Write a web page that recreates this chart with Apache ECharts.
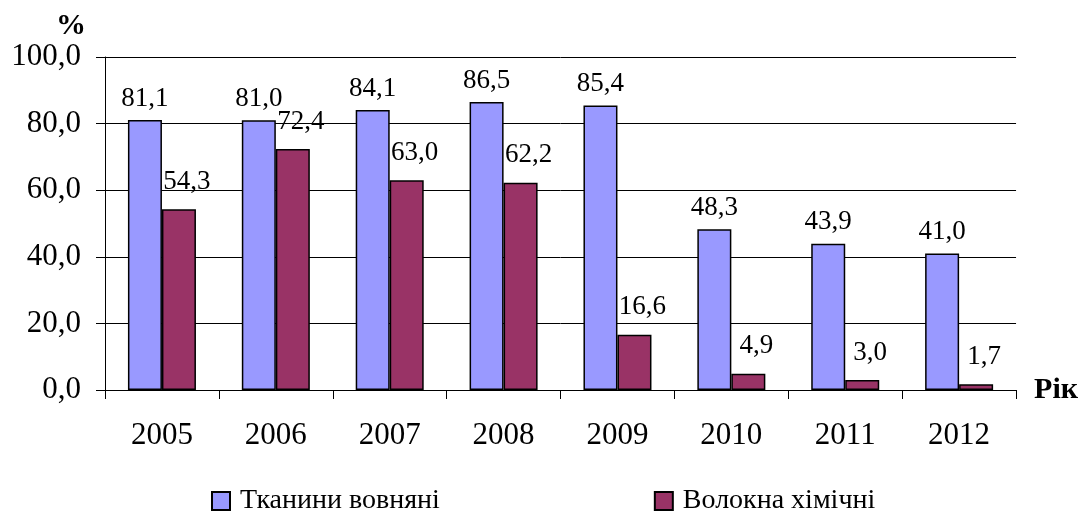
<!DOCTYPE html>
<html>
<head>
    <meta charset="UTF-8">
    <title>Chart</title>
    <style>
        html, body { margin: 0; padding: 0; background: #fff; }
        #chart { width: 1081px; height: 512px; }
    </style>
    <script src="https://cdn.jsdelivr.net/npm/echarts@6/dist/echarts.min.js"></script>
</head>
<body>
    <div id="chart"></div>
    <script>
        // chart data
        var years = ['2005', '2006', '2007', '2008', '2009', '2010', '2011', '2012'];
        var woolFabrics = [81.1, 81.0, 84.1, 86.5, 85.4, 48.3, 43.9, 41.0];
        var chemFibres = [54.3, 72.4, 63.0, 62.2, 16.6, 4.9, 3.0, 1.7];
        var seriesNames = ['Тканини вовняні', 'Волокна хімічні'];

        var serif = 'Times New Roman';

        function comma(v) {
            return Number(v).toFixed(1).replace('.', ',');
        }

        var chart = echarts.init(document.getElementById('chart'));

        var option = {
            animation: false,
            textStyle: { fontFamily: serif, color: '#000' },
            grid: { left: 105, right: 64, top: 57, bottom: 122 },
            legend: {
                left: 206,
                top: 482,
                itemWidth: 18,
                itemHeight: 18,
                itemGap: 214,
                icon: 'rect',
                textStyle: { fontFamily: serif, fontSize: 28, color: '#000', padding: [0, 0, 0, 5] },
                data: seriesNames
            },
            xAxis: {
                type: 'category',
                data: years,
                name: 'Рік',
                nameLocation: 'end',
                nameGap: 18,
                nameTextStyle: { fontFamily: serif, fontSize: 30, fontWeight: 'bold', color: '#000' },
                axisLine: { lineStyle: { color: '#000', width: 1 } },
                axisTick: { show: true, length: 9, lineStyle: { color: '#000' } },
                axisLabel: { fontFamily: serif, fontSize: 31, color: '#000', margin: 30 }
            },
            yAxis: {
                type: 'value',
                min: 0,
                max: 100,
                interval: 20,
                name: '%',
                nameLocation: 'end',
                nameGap: 16,
                nameTextStyle: {
                    fontFamily: serif, fontSize: 30, fontWeight: 'bold', color: '#000',
                    align: 'right', padding: [0, 19, 0, 0]
                },
                axisLine: { show: true, lineStyle: { color: '#000', width: 1 } },
                axisTick: { show: true, length: 9, lineStyle: { color: '#000' } },
                axisLabel: {
                    fontFamily: serif, fontSize: 31, color: '#000', margin: 24,
                    formatter: comma
                },
                splitLine: { lineStyle: { color: '#000', width: 1 } }
            },
            series: [
                {
                    name: seriesNames[0],
                    type: 'bar',
                    data: woolFabrics,
                    barWidth: 34,
                    barGap: '0%',
                    itemStyle: { color: '#9999ff', borderColor: '#000', borderWidth: 1.5 },
                    label: {
                        show: true,
                        position: 'top',
                        distance: 8,
                        fontFamily: serif,
                        fontSize: 27,
                        color: '#000',
                        formatter: function (p) { return comma(p.value); }
                    }
                },
                {
                    name: seriesNames[1],
                    type: 'bar',
                    data: chemFibres,
                    barWidth: 34,
                    barGap: '0%',
                    itemStyle: { color: '#993366', borderColor: '#000', borderWidth: 1.5 },
                    label: {
                        show: true,
                        position: 'top',
                        distance: 14,
                        offset: [8, 0],
                        fontFamily: serif,
                        fontSize: 27,
                        color: '#000',
                        formatter: function (p) { return comma(p.value); }
                    }
                }
            ]
        };

        chart.setOption(option);
    </script>
</body>
</html>
